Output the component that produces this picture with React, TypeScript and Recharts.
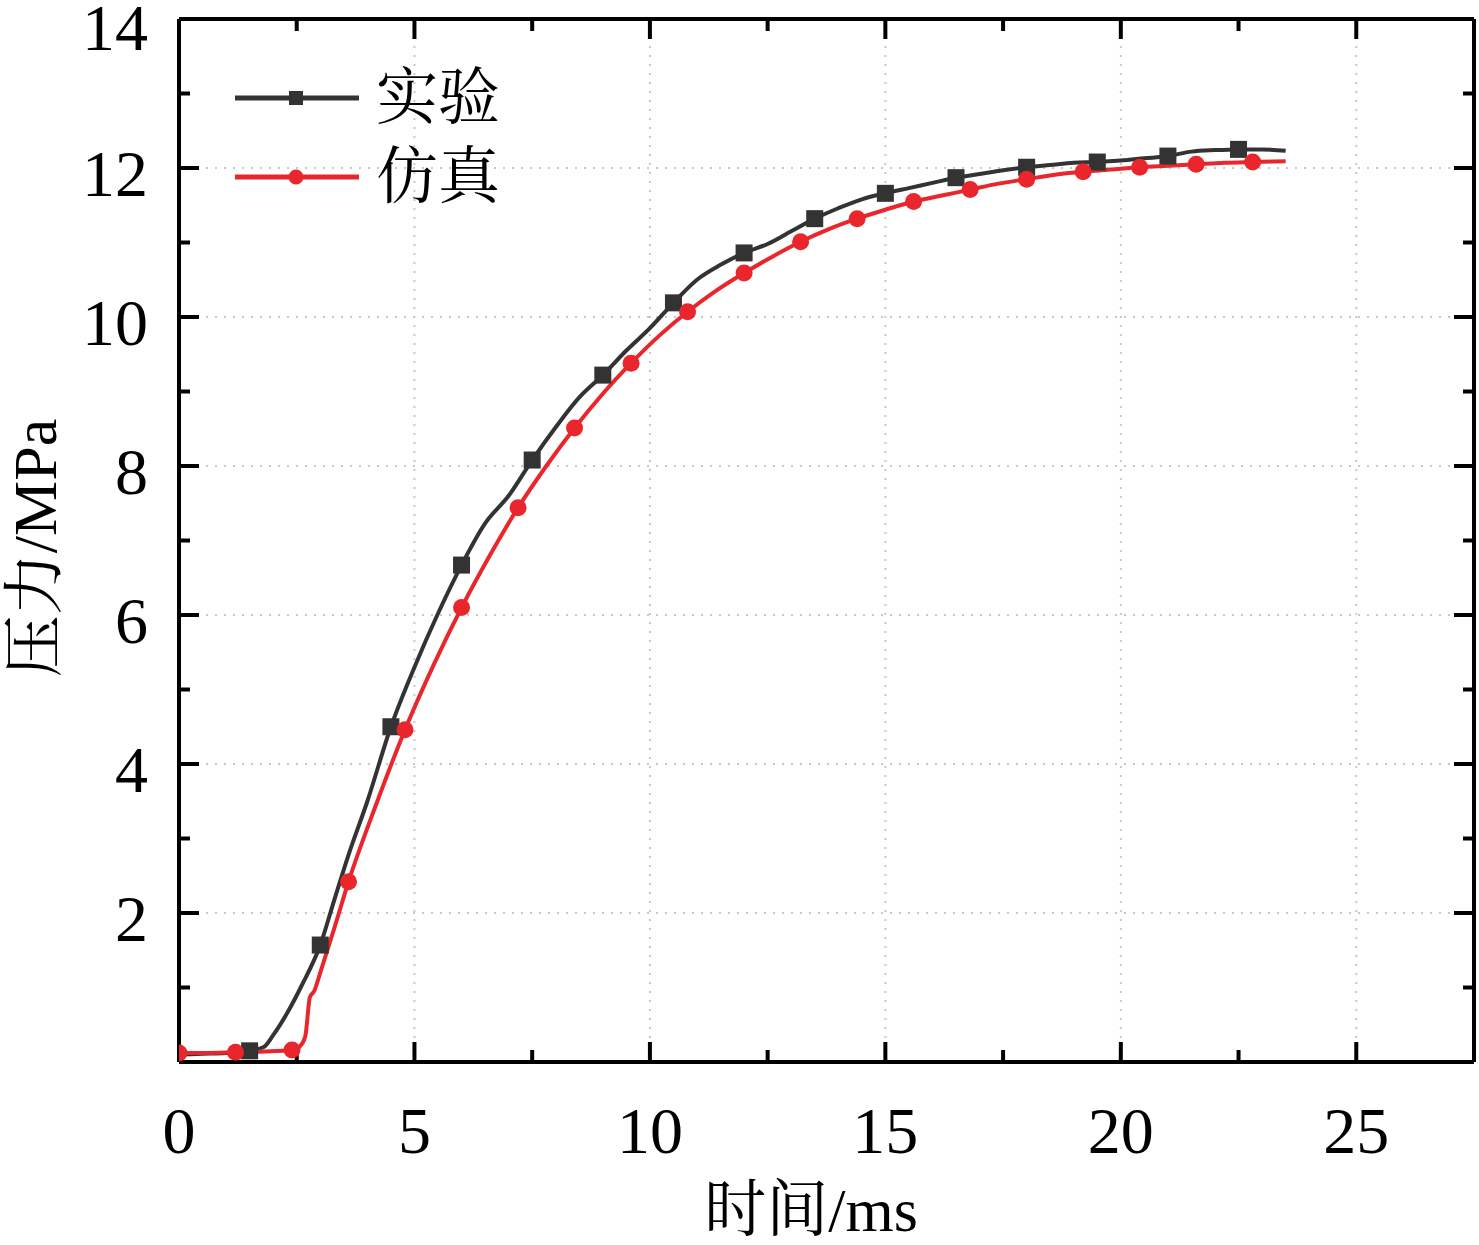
import React from "react";
import {
  LineChart,
  Line,
  XAxis,
  YAxis,
  CartesianGrid,
  Legend,
} from "recharts";

// 实验 (experiment) curve
const expTime = [
  0, 0.5, 1, 1.5, 1.8, 2.0, 2.3, 2.6, 3.0, 3.3, 3.6, 4.0, 4.5, 5.0, 5.5, 6.0,
  6.5, 7.0, 7.5, 8.0, 8.5, 9.0, 9.5, 10.0, 10.5, 11.0, 11.5, 12.0, 12.5, 13.0,
  13.5, 14.0, 14.5, 15.0, 15.5, 16.0, 16.5, 17.0, 17.5, 18.0, 18.5, 19.0, 19.5,
  20.0, 20.5, 21.0, 21.5, 22.0, 22.5, 23.0, 23.5,
];
const expPressure = [
  0.1, 0.11, 0.12, 0.15, 0.2, 0.36, 0.66, 1.02, 1.57, 2.18, 2.78, 3.5, 4.5,
  5.3, 6.02, 6.67, 7.23, 7.6, 8.08, 8.52, 8.92, 9.22, 9.55, 9.85, 10.19, 10.5,
  10.7, 10.86, 10.98, 11.15, 11.32, 11.46, 11.58, 11.66, 11.73, 11.8, 11.87,
  11.92, 11.97, 12.01, 12.04, 12.07, 12.08, 12.1, 12.13, 12.16, 12.22, 12.24,
  12.25, 12.25, 12.23,
];
const expMarkerTimes = [
  1.5, 3.0, 4.5, 6.0, 7.5, 9.0, 10.5, 12.0, 13.5, 15.0, 16.5, 18.0, 19.5, 21.0,
  22.5,
];

// 仿真 (simulation) curve
const simTime = [
  0, 0.6, 1.2, 1.8, 2.4, 2.55, 2.68, 2.78, 2.87, 3.0, 3.3, 3.6, 4.2, 4.8, 5.4,
  6.0, 6.6, 7.2, 7.8, 8.4, 9.0, 9.6, 10.2, 10.8, 11.4, 12.0, 12.6, 13.2, 13.8,
  14.4, 15.0, 15.6, 16.2, 16.8, 17.4, 18.0, 18.6, 19.2, 19.8, 20.4, 21.0, 21.6,
  22.2, 22.8, 23.5,
];
const simPressure = [
  0.12, 0.12, 0.13, 0.14, 0.16, 0.2, 0.34, 0.87, 0.95, 1.2, 1.8, 2.42, 3.48,
  4.46, 5.32, 6.1, 6.8, 7.44, 8.0, 8.51, 8.97, 9.38, 9.75, 10.07, 10.35, 10.59,
  10.81, 11.01, 11.18, 11.32, 11.44, 11.55, 11.63, 11.71, 11.79, 11.85, 11.91,
  11.95, 11.98, 12.01, 12.03, 12.05, 12.07, 12.08, 12.09,
];
const simMarkerTimes = [
  0, 1.2, 2.4, 3.6, 4.8, 6.0, 7.2, 8.4, 9.6, 10.8, 12.0, 13.2, 14.4, 15.6,
  16.8, 18.0, 19.2, 20.4, 21.6, 22.8,
];

const seriesNames = ["实验", "仿真"];

const xLabelTicks = [0, 5, 10, 15, 20, 25];
const xMajorTicks = [5, 10, 15, 20, 25];
const xMinorTicks = [2.5, 7.5, 12.5, 17.5, 22.5];
const yLabelTicks = [2, 4, 6, 8, 10, 12, 14];
const yMinorTicks = [1, 3, 5, 7, 9, 11, 13];

const expData = expTime.map((t, i) => ({ t, p: expPressure[i] }));
const simData = simTime.map((t, i) => ({ t, p: simPressure[i] }));

const BLACK = "#333333";
const RED = "#e8262b";
const FONT = '"Liberation Serif", "Times New Roman", "Noto Serif CJK SC", "Noto Sans CJK SC", serif';
const tickStyle = { fill: "#000", fontSize: 66, fontFamily: FONT };
const lineStyle = { stroke: "#000", strokeWidth: 4 };

// empty tick label: mirrored axes only draw their tick marks
const noLabel = (props: any) => <g key={`n${props.index}`} />;

const yTick = (props: any) => {
  const { x, y, payload } = props;
  // keep the top label ("14") inside the picture
  const ty = Math.max(y + 5, 27);
  return (
    <text x={x} y={ty} textAnchor="end" dominantBaseline="central" {...tickStyle}>
      {payload.value}
    </text>
  );
};

const squareDot = (props: any) => {
  const { cx, cy, payload, index } = props;
  if (!expMarkerTimes.includes(payload.t)) return <g key={`e${index}`} />;
  return <rect key={`e${index}`} x={cx - 8.5} y={cy - 8.5} width={17} height={17} fill={BLACK} />;
};

const circleDot = (props: any) => {
  const { cx, cy, payload, index } = props;
  if (!simMarkerTimes.includes(payload.t)) return <g key={`s${index}`} />;
  return <circle key={`s${index}`} cx={cx} cy={cy} r={8.5} fill={RED} />;
};

const renderLegend = ({ payload }: any) => {
  const items = [...(payload || [])].sort(
    (a: any, b: any) => seriesNames.indexOf(a.value) - seriesNames.indexOf(b.value)
  );
  return (
    <div>
      {items.map((entry: any) => (
        <div key={entry.value} style={{ display: "flex", alignItems: "center", height: 79 }}>
          <svg width={126} height={30}>
            <line x1={1} y1={15} x2={125} y2={15} stroke={entry.color} strokeWidth={5} />
            {entry.value === seriesNames[0] ? (
              <rect x={55} y={8} width={14} height={14} fill={entry.color} />
            ) : (
              <circle cx={62} cy={15} r={7.5} fill={entry.color} />
            )}
          </svg>
          <span style={{ marginLeft: 16, fontSize: 62, fontFamily: FONT, color: "#000", lineHeight: 1 }}>
            {entry.value}
          </span>
        </div>
      ))}
    </div>
  );
};

const renderYTitle = ({ viewBox }: any) => {
  const cx = viewBox.x + 35;
  const cy = 548;
  return (
    <text
      x={cx}
      y={cy}
      transform={`rotate(-90 ${cx} ${cy})`}
      textAnchor="middle"
      dominantBaseline="central"
      fontSize={62}
      fontFamily={FONT}
      fill="#000"
    >
      压力/MPa
    </text>
  );
};

const renderXTitle = ({ viewBox }: any) => (
  <text
    x={811}
    y={viewBox.y + viewBox.height - 14}
    textAnchor="middle"
    fontSize={62}
    fontFamily={FONT}
    fill="#000"
  >
    时间/ms
  </text>
);

const mirrorX = (id: string, orientation: "top" | "bottom", ticks: number[], size: number, frame: boolean) => (
  <XAxis
    key={id}
    xAxisId={id}
    dataKey="t"
    type="number"
    domain={[0, 27.5]}
    allowDataOverflow
    ticks={ticks}
    interval={0}
    orientation={orientation}
    mirror
    height={2}
    tick={noLabel}
    tickSize={size}
    tickLine={lineStyle}
    axisLine={frame ? lineStyle : false}
  />
);

const App = () => {
  return (
    <div style={{ position: "absolute", left: 0, top: 0, background: "#fff" }}>
      <LineChart width={1479} height={1245} margin={{ top: 19, right: 5, bottom: 0, left: 0 }}>
        <CartesianGrid
          xAxisId="b"
          yAxisId="l"
          stroke="#c8c8c8"
          strokeWidth={2}
          strokeDasharray="2 7"
        />
        <XAxis
          xAxisId="b"
          dataKey="t"
          type="number"
          domain={[0, 27.5]}
          allowDataOverflow
          ticks={xLabelTicks}
          interval={0}
          height={183}
          tickLine={false}
          tickSize={0}
          tickMargin={44}
          tick={tickStyle}
          axisLine={lineStyle}
          label={renderXTitle}
        />
        {mirrorX("bMaj", "bottom", xMajorTicks, 20, false)}
        {mirrorX("bMin", "bottom", xMinorTicks, 10, false)}
        {mirrorX("tMaj", "top", xMajorTicks, 20, true)}
        {mirrorX("tMin", "top", xMinorTicks, 10, false)}
        <YAxis
          yAxisId="l"
          type="number"
          domain={[0, 14]}
          allowDataOverflow
          ticks={yLabelTicks}
          interval={0}
          width={179}
          tickLine={false}
          tickSize={0}
          tickMargin={31}
          tick={yTick}
          axisLine={lineStyle}
          label={renderYTitle}
        />
        <YAxis yAxisId="lMaj" type="number" domain={[0, 14]} allowDataOverflow ticks={yLabelTicks} interval={0}
          orientation="left" mirror width={1} tick={noLabel} tickSize={20} tickLine={lineStyle} axisLine={false} />
        <YAxis yAxisId="lMin" type="number" domain={[0, 14]} allowDataOverflow ticks={yMinorTicks} interval={0}
          orientation="left" mirror width={1} tick={noLabel} tickSize={10} tickLine={lineStyle} axisLine={false} />
        <YAxis yAxisId="rMaj" type="number" domain={[0, 14]} allowDataOverflow ticks={yLabelTicks} interval={0}
          orientation="right" mirror width={1} tick={noLabel} tickSize={20} tickLine={lineStyle} axisLine={lineStyle} />
        <YAxis yAxisId="rMin" type="number" domain={[0, 14]} allowDataOverflow ticks={yMinorTicks} interval={0}
          orientation="right" mirror width={1} tick={noLabel} tickSize={10} tickLine={lineStyle} axisLine={false} />
        <Legend
          layout="vertical"
          align="center"
          verticalAlign="middle"
          content={renderLegend}
          wrapperStyle={{ left: 234, top: 58, width: "auto", height: "auto" }}
        />
        <Line
          data={expData}
          dataKey="p"
          name={seriesNames[0]}
          xAxisId="b"
          yAxisId="l"
          type="monotone"
          stroke={BLACK}
          strokeWidth={4}
          dot={squareDot}
          activeDot={false}
          isAnimationActive={false}
        />
        <Line
          data={simData}
          dataKey="p"
          name={seriesNames[1]}
          xAxisId="b"
          yAxisId="l"
          type="monotone"
          stroke={RED}
          strokeWidth={4}
          dot={circleDot}
          activeDot={false}
          isAnimationActive={false}
        />
      </LineChart>
    </div>
  );
};

export default App;
